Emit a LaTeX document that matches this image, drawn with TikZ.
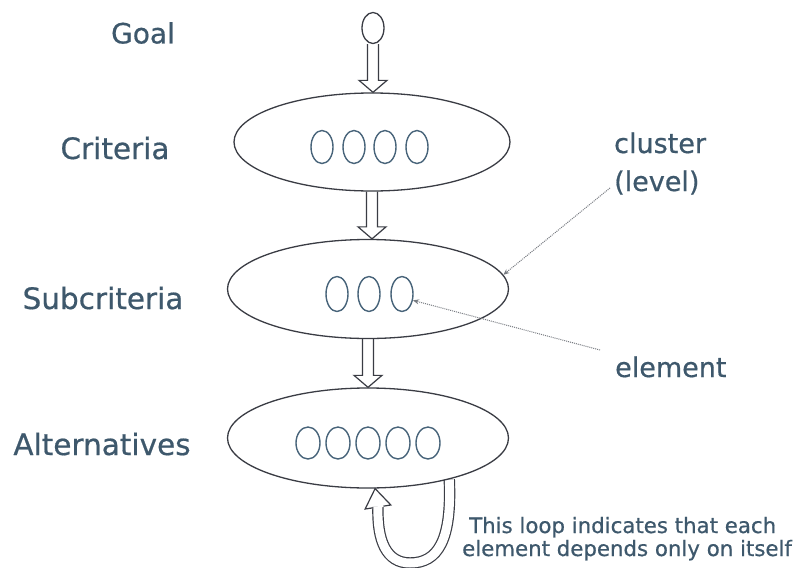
\documentclass[tikz,border=0pt]{standalone}
\usepackage{fontspec}
\setmainfont{DejaVu Sans}
\newfontfamily\labelfont[FakeBold=0.6]{DejaVu Sans}
\usetikzlibrary{shapes.geometric,arrows.meta,calc}
\pgfdeclarelayer{back}
\pgfsetlayers{back,main}
\definecolor{labelblue}{RGB}{62,88,108}
\definecolor{outline}{RGB}{58,60,68}
\definecolor{elemblue}{RGB}{72,100,122}
\definecolor{leader}{RGB}{120,124,130}
\begin{document}
\begin{tikzpicture}[x=1pt,y=-1pt,
  cluster/.style={draw=outline, line width=1.3pt, ellipse, inner sep=0pt,
    minimum width=281pt, minimum height=99pt},
  elem/.style={draw=elemblue, line width=1.4pt, ellipse, inner sep=0pt,
    minimum width=22pt, minimum height=33pt},
  level/.style={text=labelblue, font=\labelfont\fontsize{29.5}{33}\selectfont, inner sep=0pt},
  note/.style={text=labelblue, font=\labelfont\fontsize{27}{30}\selectfont, inner sep=0pt,
    anchor=base west},
  remark/.style={text=labelblue, font=\labelfont\fontsize{21.3}{23}\selectfont, inner sep=0pt,
    anchor=base west},
  hollow/.style={draw=outline, line width=1.2pt, line join=miter,
    to path={let \p1=(\tikztostart), \p2=(\tikztotarget) in
      (\x1-5.5pt,\y1) -- (\x1-5.5pt,\y2+12pt) -- (\x1-14pt,\y2+12pt) -- (\x1,\y2)
      -- (\x1+14pt,\y2+12pt) -- (\x1+5.5pt,\y2+12pt) -- (\x1+5.5pt,\y1)}},
  band/.style={draw=outline, line width=1.2pt, double=white, double distance=9pt},
  leaderline/.style={draw=leader, line width=1pt, dash pattern=on 1pt off 1pt,
    -{Stealth[length=6pt,width=5pt]}},
]
\begin{pgfonlayer}{back}
  \fill[white] (0,0) rectangle (796,568);
\end{pgfonlayer}
\useasboundingbox (0,0) rectangle (796,568);

% levels of the hierarchy
\node[draw=outline, line width=1.3pt, ellipse, inner sep=0pt,
      minimum width=22pt, minimum height=31pt] (goal) at (373,28) {};
\node[cluster, minimum width=276pt, minimum height=98pt] (crit) at (372,142) {};
\node[cluster] (sub) at (368,289) {};
\node[cluster, minimum height=100pt] (alt) at (368,438) {};

% elements inside each cluster
\foreach \x [count=\i] in {322,354,385,417}
  \node[elem] (c\i) at (\x,147) {};
\foreach \x [count=\i] in {337,369,402}
  \node[elem, minimum height=35pt] (s\i) at (\x,294) {};
\foreach \x [count=\i] in {308,338,368,398,428}
  \node[elem, minimum width=24pt, minimum height=32pt] (a\i) at (\x,443) {};

% hollow arrows between levels
\draw[hollow] (goal.south) to (crit.north);
\draw[hollow] (crit.south) to (sub.north);
\draw[hollow] (sub.south) to (alt.north);

% self loop on the alternatives
\coordinate (hb) at (378,507);
\begin{pgfonlayer}{back}
  \draw[band] (alt.-27) .. controls (452,540) and (438,563) .. (410,563)
    .. controls (386,563) and (377,540) .. (hb);
\end{pgfonlayer}
\draw[outline, line width=1.2pt, line join=miter]
  ($(hb)!5.5pt!90:(alt.-82)$) -- ($(hb)!13pt!90:(alt.-82)$) -- (alt.-82)
  -- ($(hb)!13pt!-90:(alt.-82)$) -- ($(hb)!5.5pt!-90:(alt.-82)$);

% level names
\node[level, font=\labelfont\fontsize{28}{32}\selectfont] (lgoal) at (143,33) {Goal};
\node[level] (lcrit) at (115,148) {Criteria};
\node[level] (lsub) at (103,298) {Subcriteria};
\node[level] (lalt) at (102,444) {Alternatives};

% annotations
\node[note] (lcluster) at (614,153) {cluster};
\node[note] (llevel) at (614,191) {(level)};
\node[note] (lelem) at (615,377) {element};
\node[remark] (lloop1) at (469,533) {This loop indicates that each};
\node[remark] (lloop2) at (462,556) {element depends only on itself};

\coordinate (clsrc) at (610,188);
\coordinate (elsrc) at (600,350);
\draw[leaderline] (clsrc) -- (sub.6);
\draw[leaderline] (elsrc) -- (s3.-30);
\end{tikzpicture}
\end{document}
